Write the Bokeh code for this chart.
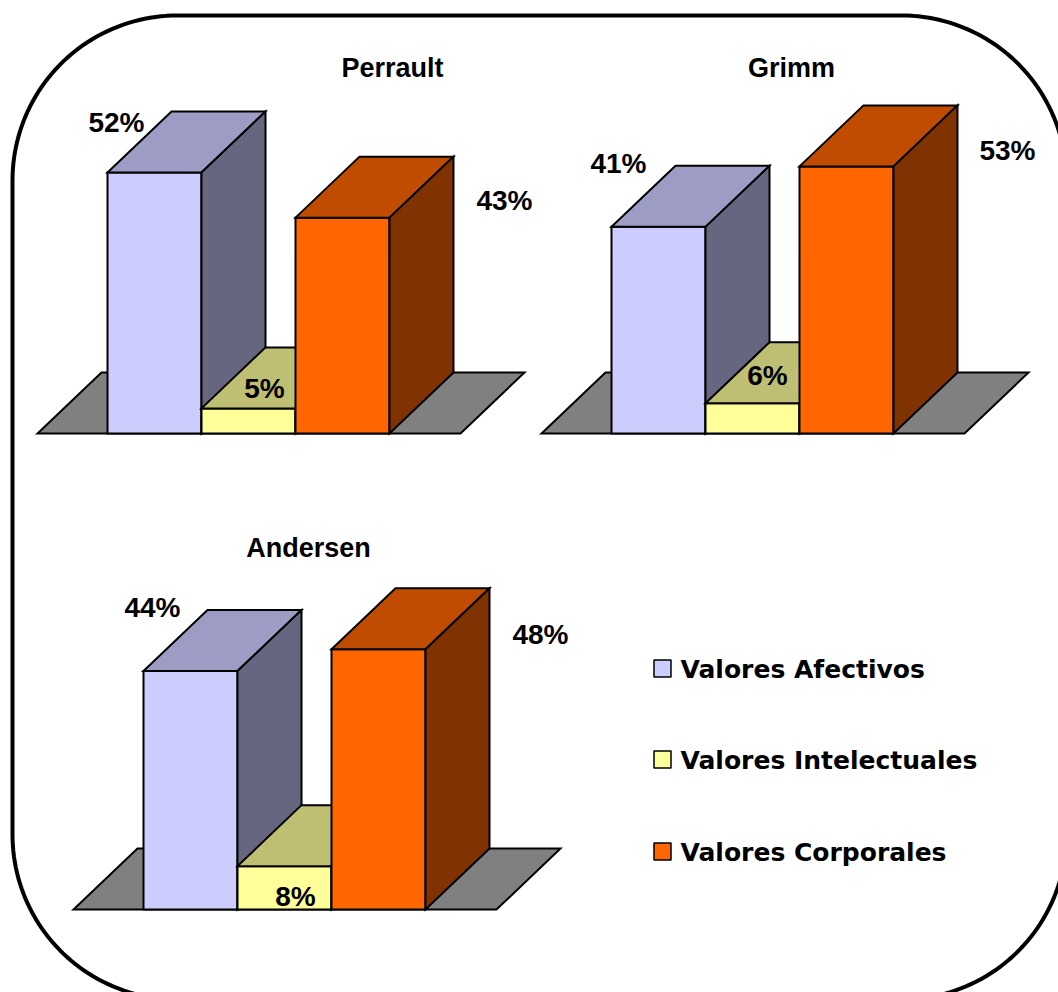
import numpy as np
from bokeh.plotting import figure
from bokeh.models import Range1d, ColumnDataSource
from bokeh.core.properties import value
from bokeh.embed import file_html
from bokeh.resources import INLINE

# ---------------- data ----------------
authors = ["Perrault", "Grimm", "Andersen"]
series = ["Valores Afectivos", "Valores Intelectuales", "Valores Corporales"]
afectivos = [52, 41, 44]
intelectuales = [5, 6, 8]
corporales = [43, 53, 48]

# ---------------- styling ----------------
front_colors = ["#CCCCFF", "#FFFF99", "#FF6600"]
top_colors = ["#9C9CC4", "#BFBF73", "#BF4C00"]
side_colors = ["#666680", "#808066", "#803300"]
floor_color = "#808080"

W, H = 1058, 992
FLOOR_W = 423          # width of the floor's front edge
BAR_MARGIN = 70        # gap between floor corner and first bar
BAR_W = 94             # front width of one bar
DEPTH_X, DEPTH_Y = 64, 61  # oblique depth of the 3D projection

# per panel: floor front-left corner, pixels per percent, title anchor,
# and label offsets (relative to each bar's front-left top corner)
panels = {
    "Perrault": dict(origin=(37, 433), scale=5.02, title=(392, 67),
                     label_off=[(9, -50), (63, -20), (209, -17)]),
    "Grimm": dict(origin=(541, 433), scale=5.04, title=(791, 67),
                  label_off=[(7, -63), (62, -28), (208, -16)]),
    "Andersen": dict(origin=(73, 909), scale=5.42, title=(308, 547),
                     label_off=[(9, -64), (58, 30), (209, -15)]),
}

LABEL_FONT = value("Liberation Sans")
LEGEND_FONT = value("DejaVu Sans")

p = figure(width=W, height=H, x_range=Range1d(0, W), y_range=Range1d(H, 0),
           toolbar_location=None, output_backend="svg", min_border=0)
p.axis.visible = False
p.grid.visible = False
p.outline_line_color = None
p.background_fill_color = "white"
p.border_fill_color = "white"

# ---------------- rounded frame ----------------
def rounded_rect(x0, y0, x1, y1, r, n=48):
    xs, ys = [], []
    corners = [((x1 - r, y0 + r), -90, 0), ((x1 - r, y1 - r), 0, 90),
               ((x0 + r, y1 - r), 90, 180), ((x0 + r, y0 + r), 180, 270)]
    for (cx, cy), a0, a1 in corners:
        t = np.radians(np.linspace(a0, a1, n))
        xs.extend(cx + r * np.cos(t))
        ys.extend(cy + r * np.sin(t))
    xs.append(xs[0])
    ys.append(ys[0])
    return xs, ys

fx, fy = rounded_rect(12, 15, 1066, 999, 165)
p.line(fx, fy, line_color="black", line_width=4)

# ---------------- 3D bar panels ----------------
values_by_author = {a: [afectivos[i], intelectuales[i], corporales[i]]
                    for i, a in enumerate(authors)}

for author in authors:
    cfg = panels[author]
    ox, oy = cfg["origin"]
    k = cfg["scale"]
    vals = values_by_author[author]

    xs, ys, fills = [], [], []
    # floor
    xs.append([ox, ox + FLOOR_W, ox + FLOOR_W + DEPTH_X, ox + DEPTH_X])
    ys.append([oy, oy, oy - DEPTH_Y, oy - DEPTH_Y])
    fills.append(floor_color)

    lab_x, lab_y, lab_t = [], [], []
    for i, v in enumerate(vals):
        x0 = ox + BAR_MARGIN + i * BAR_W
        x1 = x0 + BAR_W
        top = oy - v * k
        # front face
        xs.append([x0, x1, x1, x0])
        ys.append([oy, oy, top, top])
        fills.append(front_colors[i])
        # top face
        xs.append([x0, x1, x1 + DEPTH_X, x0 + DEPTH_X])
        ys.append([top, top, top - DEPTH_Y, top - DEPTH_Y])
        fills.append(top_colors[i])
        # side face
        xs.append([x1, x1 + DEPTH_X, x1 + DEPTH_X, x1])
        ys.append([top, top - DEPTH_Y, oy - DEPTH_Y, oy])
        fills.append(side_colors[i])

        dx, dy = cfg["label_off"][i]
        lab_x.append(x0 + dx)
        lab_y.append(top + dy)
        lab_t.append(f"{v}%")

    src = ColumnDataSource(dict(xs=xs, ys=ys, fill=fills))
    p.patches("xs", "ys", source=src, fill_color="fill", line_color="black",
              line_width=2, line_join="miter")

    p.text(lab_x, lab_y, text=lab_t, text_font=LABEL_FONT, text_font_style="bold",
           text_font_size="28px", text_align="center", text_baseline="middle",
           text_color="black")

    tx, ty = cfg["title"]
    p.text([tx], [ty], text=[author], text_font=LABEL_FONT, text_font_style="bold",
           text_font_size="27px", text_align="center", text_baseline="middle",
           text_color="black")

# ---------------- legend ----------------
leg_x = 662
leg_y = [668, 759, 851]
p.scatter([leg_x] * 3, leg_y, marker="square", size=17, fill_color=front_colors,
          line_color="black", line_width=1.5)
p.text([leg_x + 18] * 3, [y + 1 for y in leg_y], text=series, text_font=LEGEND_FONT,
       text_font_style="bold", text_font_size="25px", text_align="left",
       text_baseline="middle", text_color="black")

open("out.html", "w").write(file_html(p, INLINE))
